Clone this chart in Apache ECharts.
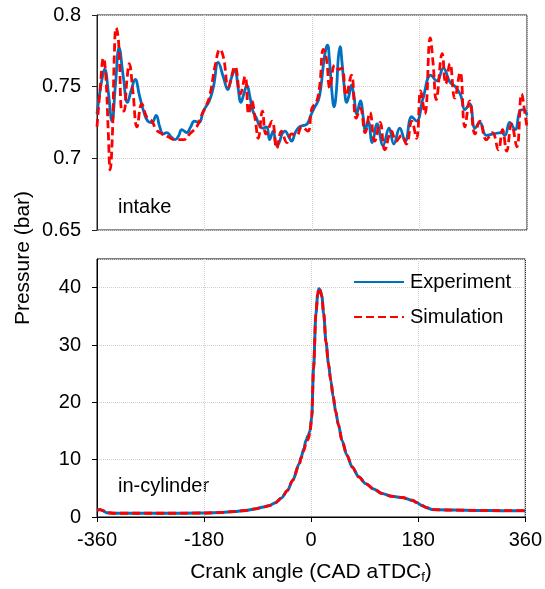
<!DOCTYPE html>
<html><head><meta charset="utf-8">
<script src="https://cdn.jsdelivr.net/npm/echarts@6/dist/echarts.min.js"></script>
<style>html,body{margin:0;padding:0;background:#fff}#c{width:545px;height:589px}</style>
</head><body><div id="c"></div>
<script>
// ---- data ----
const xTicks = [-360, -180, 0, 180, 360];
const intakeTicks = [0.65, 0.7, 0.75, 0.8];
const cylTicks = [0, 10, 20, 30, 40];

const intakeExpAngle = [-360,-353,-347,-341,-335,-329,-323,-316,-309,-303,-296,-289,-282,-275,-268,-261,-255,-249,-243,-236,-229,-223,-218,-210,-203,-197,-189,-182,-172,-165,-157,-148,-141,-135,-129,-124,-119,-114,-109,-104,-99,-93,-88,-82,-76,-71,-65,-59,-55,-50,-45,-40,-34,-28,-21,-14,-8,-2,5,11,15,19,23,26,29,33,37,41,44,47,50,54,58,62,66,70,75,81,86,89,94,101,109,119,129,137,147,156,167,175,186,199,209,220,231,240,249,256,264,273,281,292,304,317,323,331,340,348,354,360];
const intakeExp = [0.731,0.752,0.762,0.746,0.726,0.752,0.777,0.757,0.739,0.747,0.755,0.744,0.733,0.726,0.725,0.730,0.722,0.717,0.718,0.715,0.713,0.716,0.720,0.718,0.722,0.726,0.725,0.733,0.740,0.750,0.767,0.756,0.748,0.756,0.762,0.750,0.739,0.745,0.751,0.743,0.733,0.728,0.723,0.721,0.722,0.713,0.719,0.709,0.711,0.717,0.719,0.716,0.712,0.718,0.722,0.723,0.724,0.730,0.736,0.741,0.750,0.765,0.776,0.779,0.770,0.748,0.736,0.748,0.770,0.778,0.768,0.750,0.739,0.744,0.751,0.744,0.731,0.740,0.728,0.719,0.726,0.711,0.724,0.709,0.721,0.710,0.721,0.712,0.729,0.726,0.742,0.758,0.754,0.763,0.753,0.750,0.744,0.734,0.738,0.721,0.725,0.716,0.717,0.718,0.716,0.725,0.720,0.733,0.734,0.730];

const intakeSimAngle = [-360,-355,-349,-345,-341,-338,-334,-331,-328,-324,-318,-315,-310,-306,-300,-293,-285,-277,-268,-261,-251,-241,-229,-215,-205,-193,-185,-178,-171,-162,-154,-148,-140,-129,-120,-112,-106,-101,-95,-90,-83,-77,-67,-59,-51,-42,-34,-26,-17,-7,0,8,13,19,24,30,38,44,50,57,66,74,81,89,97,105,114,122,133,141,150,158,167,175,182,189,198,203,208,218,224,231,239,248,256,264,273,281,292,302,312,319,326,334,343,351,357,360];
const intakeSim = [0.722,0.747,0.770,0.756,0.717,0.692,0.719,0.772,0.791,0.782,0.733,0.733,0.754,0.766,0.747,0.722,0.738,0.729,0.726,0.720,0.717,0.715,0.713,0.713,0.717,0.722,0.730,0.736,0.744,0.765,0.776,0.770,0.750,0.764,0.745,0.757,0.731,0.740,0.727,0.714,0.733,0.717,0.726,0.707,0.719,0.711,0.717,0.716,0.722,0.719,0.735,0.740,0.751,0.776,0.770,0.749,0.765,0.762,0.763,0.744,0.758,0.728,0.735,0.718,0.732,0.712,0.725,0.706,0.719,0.712,0.716,0.710,0.726,0.714,0.747,0.731,0.784,0.765,0.741,0.773,0.752,0.766,0.742,0.760,0.722,0.740,0.717,0.726,0.713,0.718,0.706,0.720,0.705,0.724,0.708,0.745,0.730,0.722];

const cylAngle = [-360,-355,-350,-344,-330,-300,-270,-240,-210,-180,-150,-130,-110,-95,-80,-70,-60,-50,-40,-31,-20,-17,-12,-9,-5,-2,1,4,8,11,13,15,18,21,25,29,33,37,41,46,52,60,69,80,92,105,119,136,153,170,178,186,195,203,215,240,280,320,360];
const cylExp = [1.2,1.3,1.1,0.75,0.65,0.65,0.65,0.65,0.67,0.7,0.8,0.95,1.15,1.4,1.75,2.0,2.5,3.3,4.6,6.4,9.3,10.4,12.0,13.3,14.2,15.0,17.5,26.0,35.4,38.8,39.8,39.6,38.5,35.5,30.5,26.8,23.8,21.0,18.5,16.0,13.3,10.8,8.7,7.0,5.8,4.9,4.1,3.6,3.4,2.9,2.5,2.0,1.6,1.3,1.25,1.2,1.15,1.1,1.1];
const cylSim = [1.2,1.3,1.1,0.75,0.65,0.65,0.65,0.65,0.67,0.7,0.8,0.95,1.15,1.4,1.75,2.0,2.5,3.3,4.6,6.4,9.2,10.2,11.6,12.8,13.6,14.6,17.5,26.0,35.4,39.0,39.9,39.6,38.5,35.5,30.5,26.8,23.8,21.0,18.5,16.0,13.3,10.8,8.7,7.0,5.8,4.9,4.1,3.6,3.4,2.9,2.5,2.0,1.6,1.3,1.25,1.2,1.15,1.1,1.1];

const expName = 'Experiment', simName = 'Simulation';
// ---- end data ----

const pair = (a, v) => a.map((x, i) => [x, v[i]]);
const BLUE = '#0070C0', RED = '#FF0000';
const FONT = 'Liberation Sans';
const FS = 20;
const gridLine = {show: true, lineStyle: {color: '#d0d0d0', type: 'dotted', width: 1}};

const chart = echarts.init(document.getElementById('c'), null, {renderer: 'canvas'});
chart.setOption({
  animation: false,
  backgroundColor: '#fff',
  textStyle: {fontFamily: FONT},
  grid: [
    {left: 97, right: 18, top: 15, height: 215, show: true, borderColor: '#222', borderWidth: 1, backgroundColor: 'transparent'},
    {left: 97, right: 18, top: 259, height: 258, show: true, borderColor: '#000', borderWidth: 1, backgroundColor: 'transparent'}
  ],
  xAxis: [
    {gridIndex: 0, type: 'value', min: xTicks[0], max: xTicks[xTicks.length-1], interval: xTicks[1]-xTicks[0],
     axisLine: {show: false}, axisTick: {show: false}, axisLabel: {show: false}, splitLine: gridLine},
    {gridIndex: 1, type: 'value', min: xTicks[0], max: xTicks[xTicks.length-1], interval: xTicks[1]-xTicks[0],
     axisLine: {show: true, onZero: false, lineStyle: {color: '#000', width: 1}},
     axisTick: {show: true, length: 5, lineStyle: {color: '#000'}},
     axisLabel: {color: '#000', fontSize: FS, fontFamily: FONT, margin: 13}, splitLine: gridLine}
  ],
  yAxis: [
    {gridIndex: 0, type: 'value', min: intakeTicks[0], max: intakeTicks[intakeTicks.length-1], interval: 0.05,
     axisLine: {show: true, onZero: false, lineStyle: {color: '#222'}},
     axisTick: {show: true, length: 5, lineStyle: {color: '#222'}},
     axisLabel: {color: '#000', fontSize: FS, fontFamily: FONT, margin: 16}, splitLine: gridLine},
    {gridIndex: 1, type: 'value', min: cylTicks[0], max: 45, interval: cylTicks[1]-cylTicks[0],
     axisLine: {show: true, onZero: false, lineStyle: {color: '#000'}},
     axisTick: {show: true, length: 5, lineStyle: {color: '#000'}},
     axisLabel: {color: '#000', fontSize: FS, fontFamily: FONT, margin: 16, showMaxLabel: false,
       formatter: v => (cylTicks.indexOf(v) >= 0 ? String(v) : '')},
     splitLine: gridLine}
  ],
  legend: {
    data: [expName, simName], orient: 'vertical', left: 353, top: 272, padding: 0,
    itemWidth: 50, itemHeight: 14, itemGap: 15,
    itemStyle: {opacity: 0},
    textStyle: {color: '#000', fontSize: FS, fontFamily: FONT, lineHeight: 20, padding: [0, 0, 0, 1]}
  },
  series: [
    {name: expName, type: 'line', xAxisIndex: 0, yAxisIndex: 0, data: pair(intakeExpAngle, intakeExp),
     symbol: 'none', smooth: 0.45, lineStyle: {color: BLUE, width: 2.8}, itemStyle: {color: BLUE}, z: 2},
    {name: simName, type: 'line', xAxisIndex: 0, yAxisIndex: 0, data: pair(intakeSimAngle, intakeSim),
     symbol: 'none', smooth: 0.45, lineStyle: {color: RED, width: 2.8, type: [8, 4]}, itemStyle: {color: RED}, z: 3},
    {name: expName, type: 'line', xAxisIndex: 1, yAxisIndex: 1, data: pair(cylAngle, cylExp),
     symbol: 'none', smooth: 0.3, smoothMonotone: 'x', lineStyle: {color: BLUE, width: 3}, itemStyle: {color: BLUE}, z: 2},
    {name: simName, type: 'line', xAxisIndex: 1, yAxisIndex: 1, data: pair(cylAngle, cylSim),
     symbol: 'none', smooth: 0.3, smoothMonotone: 'x', lineStyle: {color: RED, width: 2.8, type: [8, 4]}, itemStyle: {color: RED}, z: 3}
  ],
  graphic: [
    {type: 'text', x: 23, y: 258, rotation: Math.PI/2,
     style: {text: 'Pressure (bar)', font: '21px "Liberation Sans"', fill: '#000', align: 'center', verticalAlign: 'middle'}},
    {type: 'text', x: 311, y: 572,
     style: {text: '{a|Crank angle (CAD aTDC}{s|f}{a|)}', align: 'center', verticalAlign: 'middle',
       rich: {a: {fontSize: 21, fontFamily: FONT, fill: '#000', color: '#000'},
              s: {fontSize: 13, fontFamily: FONT, fill: '#000', color: '#000', padding: [11, 0, 0, 0]}}}},
    {type: 'text', x: 118, y: 207,
     style: {text: 'intake', font: '20px "Liberation Sans"', fill: '#000', align: 'left', verticalAlign: 'middle'}},
    {type: 'text', x: 118, y: 486,
     style: {text: 'in-cylinder', font: '20px "Liberation Sans"', fill: '#000', align: 'left', verticalAlign: 'middle'}}
  ]
});
</script></body></html>
